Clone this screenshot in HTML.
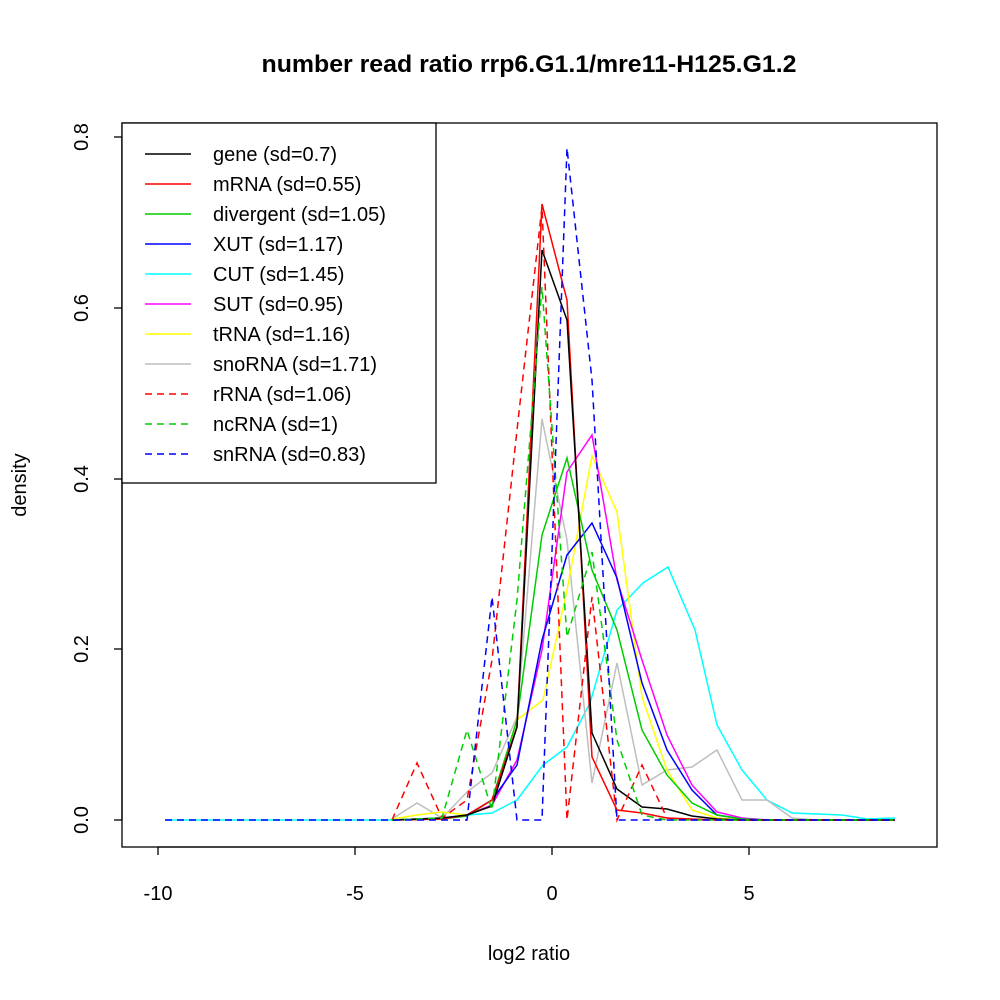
<!DOCTYPE html>
<html><head><style>body{margin:0;background:#fff}svg{display:block}text{font-family:"Liberation Sans",sans-serif}</style></head><body>
<svg width="1000" height="1000" xmlns="http://www.w3.org/2000/svg">
<rect width="1000" height="1000" fill="#fff"/>
<text x="529" y="72" font-size="24" font-weight="bold" text-anchor="middle" textLength="535" lengthAdjust="spacingAndGlyphs">number read ratio rrp6.G1.1/mre11-H125.G1.2</text>
<rect x="122" y="123" width="815" height="724" fill="none" stroke="#000" stroke-width="1.3"/>
<g stroke="#000" stroke-width="1.3">
<line x1="158" y1="847" x2="749" y2="847"/>
<line x1="158" y1="847" x2="158" y2="855"/><line x1="355" y1="847" x2="355" y2="855"/><line x1="552" y1="847" x2="552" y2="855"/><line x1="749" y1="847" x2="749" y2="855"/>
<line x1="122" y1="820" x2="122" y2="137"/>
<line x1="122" y1="820" x2="114" y2="820"/><line x1="122" y1="649" x2="114" y2="649"/><line x1="122" y1="479" x2="114" y2="479"/><line x1="122" y1="308" x2="114" y2="308"/><line x1="122" y1="137" x2="114" y2="137"/>
</g>
<g font-size="20" text-anchor="middle">
<text x="158" y="900">-10</text><text x="355" y="900">-5</text><text x="552" y="900">0</text><text x="749" y="900">5</text>
<text x="529" y="960">log2 ratio</text>
<text transform="translate(88,820) rotate(-90)">0.0</text>
<text transform="translate(88,649) rotate(-90)">0.2</text>
<text transform="translate(88,479) rotate(-90)">0.4</text>
<text transform="translate(88,308) rotate(-90)">0.6</text>
<text transform="translate(88,137) rotate(-90)">0.8</text>
<text transform="translate(26,485) rotate(-90)">density</text>
</g>
<g fill="none" stroke-width="1.5">
<polyline stroke="#00ffff" points="165,820 392,820 417,819 442,818 467,815 492,813 517,800 543,765 567,747 590,703 617,610 643,583 668,567 695,630 717,725 742,770 767,800 792,813 817,814 842,815 867,819 895,818"/>
<polyline stroke="#bebebe" points="392,819 417,803 442,818 467,792 492,773 517,717 542,419 567,540 592,783 617,663 642,785 667,770 692,767 717,750 742,800 767,800 792,818 817,820 895,820"/>
<polyline stroke="#ffff00" points="392,819 417,815 442,812 467,815 492,806 517,720 543,700 567,590 592,456 617,512 642,697 667,770 692,810 717,818 742,820 895,820"/>
<polyline stroke="#ff00ff" points="392,820 442,819 467,815 492,805 517,760 542,650 567,472 592,435 617,580 642,660 667,735 692,785 717,812 742,818 767,820 895,820"/>
<polyline stroke="#0000ff" points="392,820 442,819 467,815 492,800 517,765 542,640 567,555 592,523 617,578 642,683 667,750 692,790 717,815 742,819 767,820 895,820"/>
<polyline stroke="#00cd00" points="392,820 442,819 467,816 492,800 517,720 542,535 567,458 592,570 617,630 642,730 667,775 692,803 717,815 742,819 767,820 895,820"/>
<polyline stroke="#ff0000" points="392,820 442,819 467,815 492,800 517,727 542,204 567,300 592,757 617,810 642,813 667,818 692,819 717,820 895,820"/>
<polyline stroke="#000000" points="392,820 417,819 442,818 467,815 492,806 517,727 542,250 567,320 592,733 617,789 642,807 667,809 692,816 717,819 742,820 895,820"/>
</g>
<g fill="none" stroke-width="1.5" stroke-dasharray="7,5">
<polyline stroke="#ff0000" points="392,820 417,763 442,818 467,800 492,660 517,430 542,207 567,820 592,597 617,820 642,765 667,818 692,820 895,820"/>
<polyline stroke="#00cd00" points="392,820 442,818 467,730 492,810 517,600 542,287 567,637 592,552 617,740 642,815 667,820 895,820"/>
<polyline stroke="#0000ff" points="165,820 467,820 492,597 517,820 542,820 567,148 592,380 617,820 895,820"/>
</g>
<rect x="122" y="123" width="314" height="360" fill="#fff" stroke="#000" stroke-width="1.3"/>
<g stroke-width="1.5">
<line x1="145" y1="154" x2="191" y2="154" stroke="#000"/>
<line x1="145" y1="184" x2="191" y2="184" stroke="#ff0000"/>
<line x1="145" y1="214" x2="191" y2="214" stroke="#00cd00"/>
<line x1="145" y1="244" x2="191" y2="244" stroke="#0000ff"/>
<line x1="145" y1="274" x2="191" y2="274" stroke="#00ffff"/>
<line x1="145" y1="304" x2="191" y2="304" stroke="#ff00ff"/>
<line x1="145" y1="334" x2="191" y2="334" stroke="#ffff00"/>
<line x1="145" y1="364" x2="191" y2="364" stroke="#bebebe"/>
<line x1="145" y1="394" x2="191" y2="394" stroke="#ff0000" stroke-dasharray="7,5"/>
<line x1="145" y1="424" x2="191" y2="424" stroke="#00cd00" stroke-dasharray="7,5"/>
<line x1="145" y1="454" x2="191" y2="454" stroke="#0000ff" stroke-dasharray="7,5"/>
</g>
<g font-size="20">
<text x="213" y="161">gene (sd=0.7)</text>
<text x="213" y="191">mRNA (sd=0.55)</text>
<text x="213" y="221">divergent (sd=1.05)</text>
<text x="213" y="251">XUT (sd=1.17)</text>
<text x="213" y="281">CUT (sd=1.45)</text>
<text x="213" y="311">SUT (sd=0.95)</text>
<text x="213" y="341">tRNA (sd=1.16)</text>
<text x="213" y="371">snoRNA (sd=1.71)</text>
<text x="213" y="401">rRNA (sd=1.06)</text>
<text x="213" y="431">ncRNA (sd=1)</text>
<text x="213" y="461">snRNA (sd=0.83)</text>
</g>
</svg>
</body></html>
